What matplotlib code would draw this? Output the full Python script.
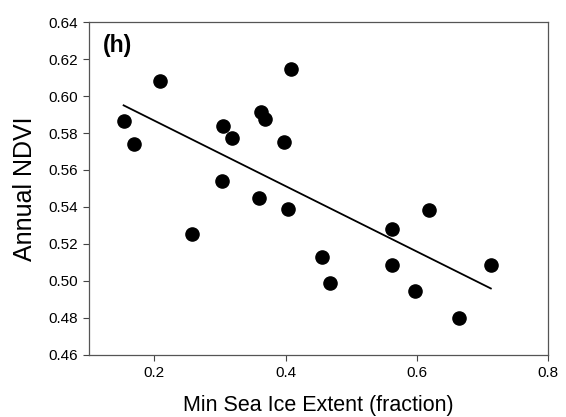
import matplotlib.pyplot as plt
import numpy as np

# Min sea ice extent (fraction) vs annual NDVI
ice = [0.153, 0.169, 0.209, 0.305, 0.318, 0.303, 0.362, 0.368, 0.398, 0.408,
       0.360, 0.404, 0.258, 0.456, 0.467, 0.563, 0.562, 0.619, 0.597, 0.664, 0.713]
ndvi = [0.5865, 0.574, 0.608, 0.5838, 0.5773, 0.554, 0.5912, 0.5874, 0.5753, 0.6148,
        0.5449, 0.539, 0.5254, 0.5131, 0.4988, 0.528, 0.5085, 0.5384, 0.4948, 0.4799, 0.5086]

plt.rcParams['font.family'] = ['Liberation Sans', 'DejaVu Sans']

fig = plt.figure(figsize=(5.66, 4.17), dpi=100)
ax = fig.add_axes([0.157, 0.149, 0.811, 0.798])

x = np.array(ice)
y = np.array(ndvi)
slope, intercept = np.polyfit(x, y, 1)
xf = np.array([x.min(), x.max()])
ax.plot(xf, slope * xf + intercept, color='black', linewidth=1.3, zorder=2)
ax.scatter(x, y, s=90, color='black', zorder=3)

ax.set_xlim(0.1, 0.8)
ax.set_ylim(0.46, 0.64)
ax.set_xticks([0.2, 0.4, 0.6, 0.8])
ax.set_xticklabels(['0.2', '0.4', '0.6', '0.8'])
ax.set_yticks(np.arange(0.46, 0.641, 0.02))
ax.set_yticklabels(['%.2f' % v for v in np.arange(0.46, 0.641, 0.02)])
ax.tick_params(direction='out', length=4, width=0.8, color='#444444',
               labelsize=11, pad=4)
for s in ax.spines.values():
    s.set_color('#555555')
    s.set_linewidth(0.9)

ax.set_xlabel('Min Sea Ice Extent (fraction)', fontsize=15.5, labelpad=11)
ax.set_ylabel('Annual NDVI', fontsize=18, labelpad=8)
ax.text(0.03, 0.965, '(h)', transform=ax.transAxes, fontsize=16.5,
        fontweight='bold', va='top', ha='left')

fig.savefig('out.png', dpi=100)
